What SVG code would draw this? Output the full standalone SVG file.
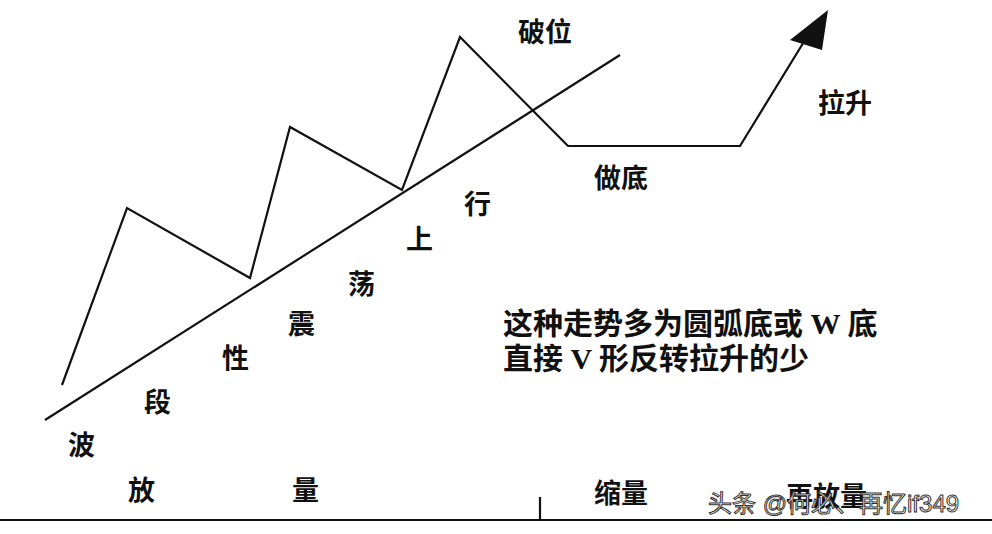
<svg xmlns="http://www.w3.org/2000/svg" width="992" height="534" viewBox="0 0 992 534">
<style>
.l{fill:none;stroke:#111;stroke-width:2.2}
.t{font-family:"Liberation Serif","Noto Sans CJK SC",serif;font-weight:bold;font-size:27px;fill:#111}
.b{font-size:30px}
.w{font-family:"Liberation Sans","Noto Sans CJK SC",sans-serif;font-size:24px;fill:#fff;stroke:#333;stroke-width:1}
</style>
<rect width="992" height="534" fill="#fff"/>
<g id="connectors">
<polyline class="l" points="62,385 127,208 250,278 290,127 402,190 460,37 568,146 740,146 805,40"/>
<line class="l" x1="45" y1="420" x2="620" y2="55"/>
<polygon points="828,10 822,50 790,40" fill="#111"/>
<line class="l" x1="0" y1="520" x2="992" y2="520"/>
<line class="l" x1="540" y1="497" x2="540" y2="520"/>
</g>
<g id="labels" class="t">
<text x="518" y="42">破位</text>
<text x="818" y="113">拉升</text>
<text x="594" y="188">做底</text>
<text x="464" y="214">行</text>
<text x="406" y="249">上</text>
<text x="348" y="294">荡</text>
<text x="288" y="334">震</text>
<text x="222" y="368">性</text>
<text x="144" y="412">段</text>
<text x="68" y="455">波</text>
<text x="128" y="500">放</text>
<text x="292" y="500">量</text>
<text x="594" y="503">缩量</text>
<text x="786" y="506">再放量</text>
<text class="b" x="503" y="334">这种走势多为圆弧底或 W 底</text>
<text class="b" x="503" y="369">直接 V 形反转拉升的少</text>
</g>
<text class="w" x="708" y="512">头条 @何必、再忆if349</text>
</svg>
